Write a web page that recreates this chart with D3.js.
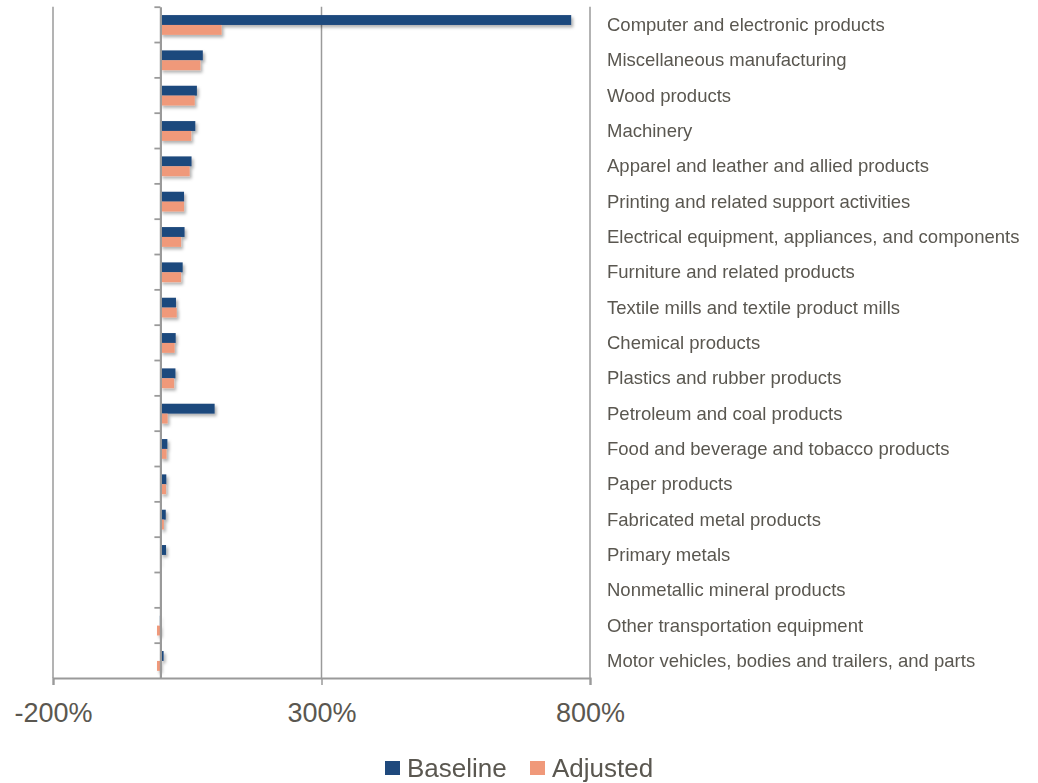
<!DOCTYPE html>
<html><head><meta charset="utf-8">
<script src="https://cdn.jsdelivr.net/npm/d3@7"></script>
<style>body{margin:0;background:#fff}svg{display:block}</style>
</head><body><svg id="c" width="1038" height="783"></svg>
<script>
const categories = ["Computer and electronic products","Miscellaneous manufacturing","Wood products","Machinery","Apparel and leather and allied products","Printing and related support activities","Electrical equipment, appliances, and components","Furniture and related products","Textile mills and textile product mills","Chemical products","Plastics and rubber products","Petroleum and coal products","Food and beverage and tobacco products","Paper products","Fabricated metal products","Primary metals","Nonmetallic mineral products","Other transportation equipment","Motor vehicles, bodies and trailers, and parts"];
const baseline = [765,79,68,65,58,44,45,41.5,29,28.5,28,101,13,11,10,10.5,0,-1,6];
const adjusted = [114,74.5,64,57.5,54.5,44,38.5,38.5,30.5,26.5,25.5,13.5,11.5,10.5,6.5,0.8,0,-6.3,-6.3];
const xTicks = [-200,300,800];
const seriesNames = ["Baseline","Adjusted"];
const colors = {"Baseline":"#1F497D","Adjusted":"#F0997A"};

const svg = d3.select("#c");
const font = "'Liberation Sans', Arial, sans-serif";
const textColor = "#5a5750";
const pTop = 6.7, pBottom = 678, pLeft = 53, pRight = 590;

const defs = svg.append("defs");
const f = defs.append("filter").attr("id","sh").attr("x","-10%").attr("y","-30%").attr("width","130%").attr("height","190%");
f.append("feDropShadow").attr("dx",2).attr("dy",2.5).attr("stdDeviation",1.6).attr("flood-color","#000").attr("flood-opacity",0.3);

const x = d3.scaleLinear().domain([-200,800]).range([pLeft,pRight]);
const y = d3.scaleBand().domain(categories).range([pTop,pBottom]).paddingInner(0.44).paddingOuter(0.22);
const y1 = d3.scaleBand().domain(seriesNames).range([0,y.bandwidth()]);

// vertical gridlines
svg.append("g").selectAll("line").data(xTicks).join("line")
  .attr("x1",d=>x(d)).attr("x2",d=>x(d)).attr("y1",pTop).attr("y2",pBottom)
  .attr("stroke","#9a9a9a").attr("stroke-width",1.5);

// bottom axis
const xAxis = svg.append("g").attr("transform",`translate(0,${pBottom})`)
  .call(d3.axisBottom(x).tickValues(xTicks).tickSize(7).tickPadding(0).tickFormat(d=>d+"%"));
xAxis.select(".domain").attr("stroke","#9a9a9a").attr("stroke-width",2.2);
xAxis.selectAll(".tick line").attr("stroke","#9a9a9a").attr("stroke-width",1.5);
xAxis.selectAll(".tick text").attr("font-family",font).attr("font-size",27)
  .attr("fill",textColor).attr("y",43.7).attr("dy",0);

// bars
const data = categories.map((c,i)=>({c, vals:[{s:"Baseline",v:baseline[i]},{s:"Adjusted",v:adjusted[i]}]}));
const g = svg.append("g").attr("filter","url(#sh)");
g.selectAll("g").data(data).join("g").attr("transform",d=>`translate(0,${y(d.c)+0.6})`)
  .selectAll("rect").data(d=>d.vals).join("rect")
  .attr("x",d=>x(Math.min(0,d.v))).attr("width",d=>Math.abs(x(d.v)-x(0)))
  .attr("y",d=>y1(d.s)).attr("height",y1.bandwidth())
  .attr("fill",d=>colors[d.s]);

// zero axis with boundary ticks
const yIdx = d3.scaleLinear().domain([0,categories.length]).range([pTop,pBottom]);
const yAxis = svg.append("g").attr("transform",`translate(${x(0)},0)`)
  .call(d3.axisLeft(yIdx).tickValues(d3.range(0,categories.length)).tickSize(6).tickSizeOuter(0).tickFormat(""));
yAxis.select(".domain").attr("stroke","#9a9a9a").attr("stroke-width",2.2);
yAxis.selectAll(".tick line").attr("stroke","#9a9a9a").attr("stroke-width",1.8);

// category labels
svg.append("g").selectAll("text").data(categories).join("text")
  .attr("x",607).attr("y",d=>y(d)+y.bandwidth()/2+6.5)
  .attr("font-family",font).attr("font-size",18.5).attr("fill",textColor).text(d=>d);

// legend
const leg = svg.append("g");
const lx = [385,530];
seriesNames.forEach((s,i)=>{
  leg.append("rect").attr("x",lx[i]).attr("y",761).attr("width",15).attr("height",14).attr("fill",colors[s]);
  leg.append("text").attr("x",lx[i]+22).attr("y",777).attr("font-family",font).attr("font-size",26).attr("fill",textColor).text(s);
});
</script></body></html>
